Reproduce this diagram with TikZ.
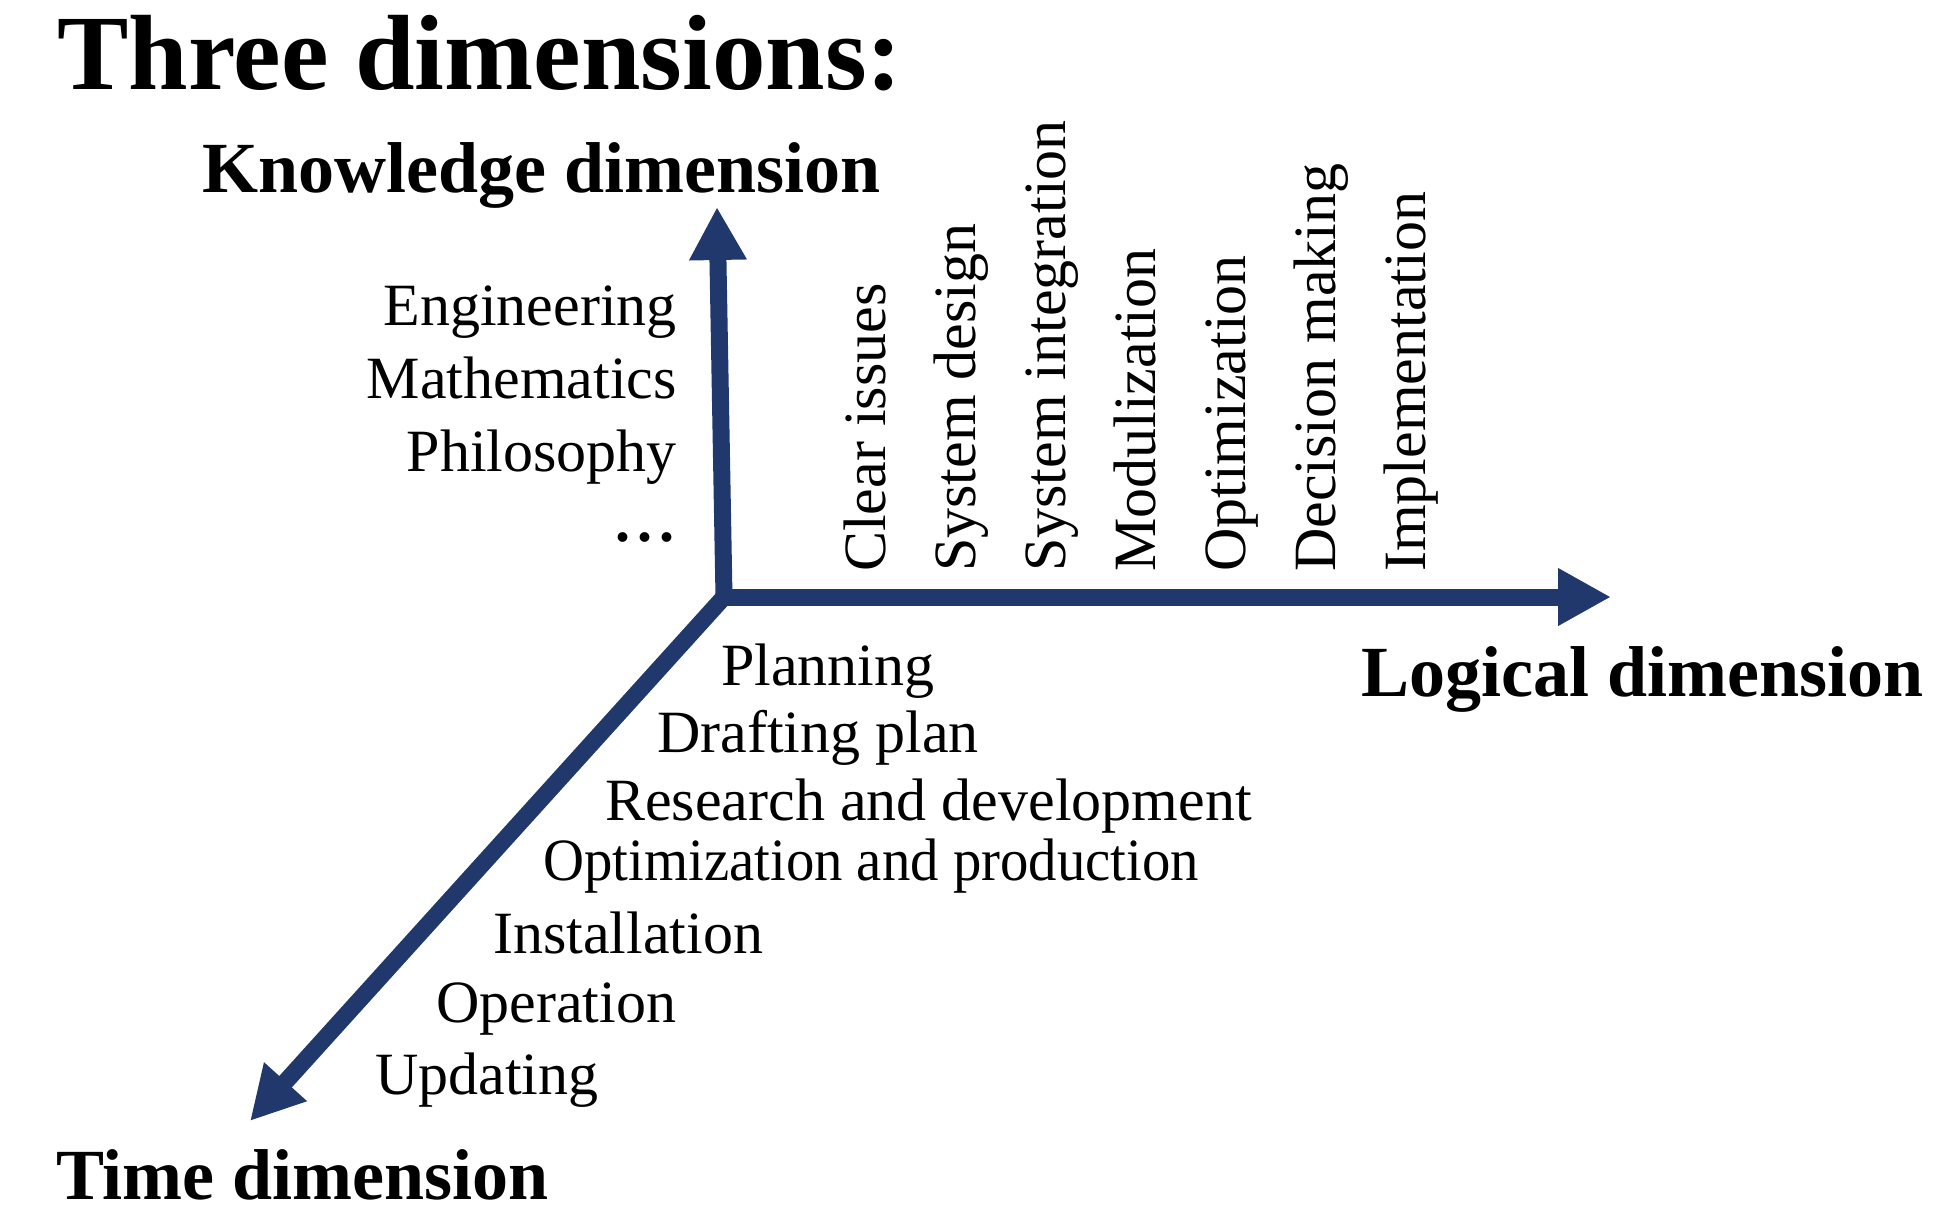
\documentclass[tikz,border=0pt]{standalone}
\usepackage{fontspec}
\setmainfont{Liberation Serif}
\usepackage{xcolor}
\usepackage{graphicx}
\usetikzlibrary{positioning,arrows.meta}
\definecolor{axisblue}{RGB}{32,56,108}

\begin{document}
\begin{tikzpicture}[x=1pt, y=-1pt,
  axis/.style={draw=axisblue, line width=17pt, line cap=rect,
    -{Triangle[length=53pt, width=54pt]}},
  dimlbl/.style={font=\fontsize{72}{86}\selectfont\bfseries, inner sep=0pt, anchor=base west},
  item/.style={font=\fontsize{60}{72}\selectfont, inner sep=0pt},
  steplbl/.style={item, rotate=90, anchor=base west}
]
\useasboundingbox (0,0) rectangle (1943,1212);

\node[font=\fontsize{107}{128}\selectfont\bfseries, inner sep=0pt, anchor=base west]
  (title) at (57,90) {Three dimensions:};

% axes
\coordinate (o) at (724,597);
\coordinate (ktip) at (717,207);
\coordinate (ltip) at (1611,597);
\coordinate (ttip) at (250,1121);
\draw[axis] (o) -- (ktip);
\draw[axis] (o) -- (ltip);
\draw[axis] (o) -- (ttip);

\node[dimlbl] (knowdim) at (202,192) {Knowledge dimension};
\node[dimlbl] (logdim) at (1361,696) {Logical dimension};
\node[dimlbl] (timedim) at (56,1199) {Time dimension};

% knowledge items
\node[item, anchor=base east] (eng) at (677,325) {Engineering};
\node[item, anchor=base east] (math) at (677,398) {Mathematics};
\node[item, anchor=base east] (phil) at (677,471) {Philosophy};
\node[item, anchor=base east] (kdots) at (675,541) {\bfseries .\kern7pt.\kern7pt.};

% logical steps
\node[steplbl] (clear) at (885,572) {Clear issues};
\node[steplbl] (sysdes) at (975,572) {System design};
\node[steplbl] (sysint) at (1065,572) {System integration};
\node[steplbl] (modul) at (1155,572) {Modulization};
\node[steplbl] (optim) at (1245,572) {Optimization};
\node[steplbl] (decis) at (1335,572) {Decision making};
\node[steplbl] (impl) at (1425,572) {Implementation};

% time phases
\node[item, anchor=base west] (plan) at (721,685) {Planning};
\node[item, anchor=base west] (draft) at (657,752) {Drafting plan};
\node[item, anchor=base west] (rnd) at (605,820) {Research and development};
\node[item, anchor=base west] (prod) at (543,880) {\scalebox{0.946}[1]{Optimization and production}};
\node[item, anchor=base west] (inst) at (493,953) {Installation};
\node[item, anchor=base west] (oper) at (436,1022) {Operation};
\node[item, anchor=base west] (upd) at (375,1094) {Updating};
\end{tikzpicture}
\end{document}
